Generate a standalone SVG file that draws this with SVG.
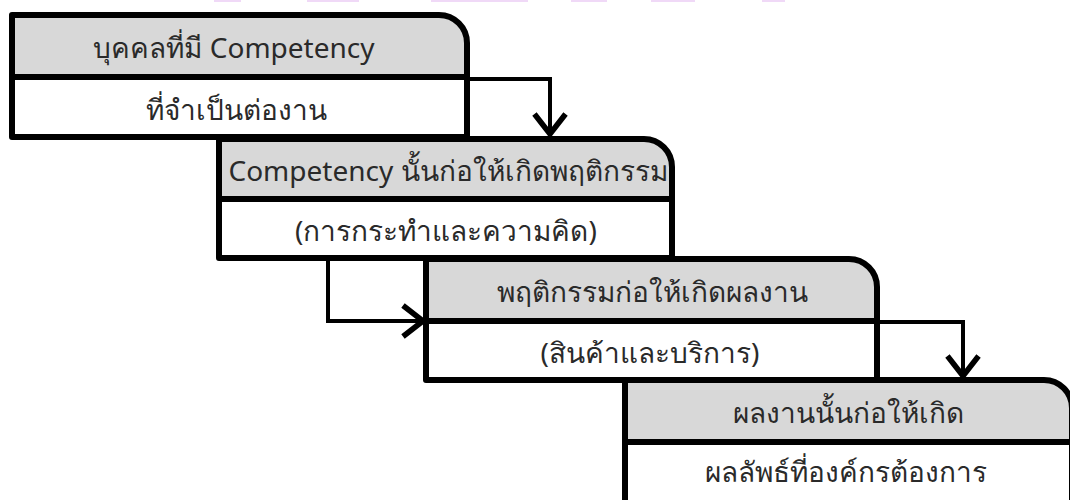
<svg xmlns="http://www.w3.org/2000/svg" width="1070" height="500" viewBox="0 0 1070 500">
  <style>
    .head { fill: #d8d8d8; }
    .body { fill: #ffffff; }
    .frame { fill: none; stroke: #000; stroke-width: 6; stroke-linejoin: round; }
    .rule { stroke: #000; stroke-width: 6; }
    .link { fill: none; stroke: #000; stroke-width: 4; }
    .lbl { font-family: "Noto Sans", "DejaVu Sans", "Liberation Sans", sans-serif; font-size: 28px; fill: #2a2a2a; text-anchor: middle; }
    .band { fill: #f0d9f7; }
  </style>
  <defs>
    <marker id="chev" markerUnits="userSpaceOnUse" markerWidth="40" markerHeight="40" refX="0" refY="0" viewBox="-22 -18 26 36" orient="auto" overflow="visible">
      <path d="M-18,-14 L0,0 L-18,14" fill="none" stroke="#000" stroke-width="5" stroke-linejoin="miter"/>
    </marker>
  </defs>

  <rect width="1070" height="500" fill="#fff"/>

  <!-- faint bands along the top edge -->
  <g id="top-bands">
    <rect class="band" x="214" y="0" width="27" height="2"/>
    <rect class="band" x="307" y="0" width="52" height="2"/>
    <rect class="band" x="431" y="0" width="97" height="2"/>
    <rect class="band" x="571" y="0" width="36" height="2"/>
    <rect class="band" x="651" y="0" width="44" height="2"/>
    <rect class="band" x="762" y="0" width="23" height="2"/>
  </g>

  <g id="connectors">
    <path class="link" d="M467,79 H550 V134" marker-end="url(#chev)"/>
    <path class="link" d="M328,258 V321 H423" marker-end="url(#chev)"/>
    <path class="link" d="M877,322 H963 V376" marker-end="url(#chev)"/>
  </g>

  <g id="step1">
    <path class="head" d="M12,15 H439 A28,28 0 0 1 467,43 V77 H12 Z"/>
    <rect class="body" x="12" y="77" width="455" height="60"/>
    <line class="rule" x1="12" y1="77" x2="467" y2="77"/>
    <path class="frame" d="M12,15 H439 A28,28 0 0 1 467,43 V137 H12 Z"/>
    <text class="lbl" x="234" y="58">บุคคลที่มี Competency</text>
    <text class="lbl" x="236" y="120">ที่จำเป็นต่องาน</text>
  </g>

  <g id="step2">
    <path class="head" d="M219,139 H644 A28,28 0 0 1 672,167 V199 H219 Z"/>
    <rect class="body" x="219" y="199" width="453" height="59"/>
    <line class="rule" x1="219" y1="199" x2="672" y2="199"/>
    <path class="frame" d="M219,139 H644 A28,28 0 0 1 672,167 V258 H219 Z"/>
    <text class="lbl" x="448" y="181">Competency นั้นก่อให้เกิดพฤติกรรม</text>
    <text class="lbl" x="446" y="241">(การกระทำและความคิด)</text>
  </g>

  <g id="step3">
    <path class="head" d="M426,259 H849 A28,28 0 0 1 877,287 V321 H426 Z"/>
    <rect class="body" x="426" y="321" width="451" height="59"/>
    <line class="rule" x1="426" y1="321" x2="877" y2="321"/>
    <path class="frame" d="M426,259 H849 A28,28 0 0 1 877,287 V380 H426 Z"/>
    <text class="lbl" x="652" y="302">พฤติกรรมก่อให้เกิดผลงาน</text>
    <text class="lbl" x="650" y="363">(สินค้าและบริการ)</text>
  </g>

  <g id="step4">
    <path class="head" d="M625,380 H1044 A28,28 0 0 1 1072,408 V442 H625 Z"/>
    <rect class="body" x="625" y="442" width="447" height="64"/>
    <line class="rule" x1="625" y1="442" x2="1072" y2="442"/>
    <path class="frame" d="M625,380 H1044 A28,28 0 0 1 1072,408 V506 H625 Z"/>
    <text class="lbl" x="848" y="423">ผลงานนั้นก่อให้เกิด</text>
    <text class="lbl" x="846" y="482">ผลลัพธ์ที่องค์กรต้องการ</text>
  </g>
</svg>
